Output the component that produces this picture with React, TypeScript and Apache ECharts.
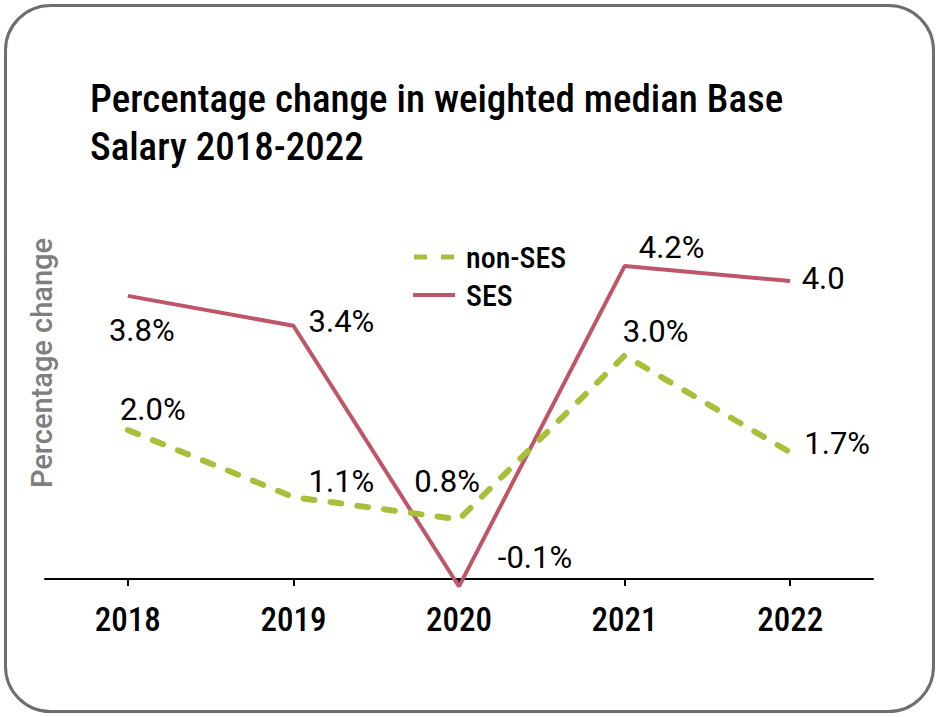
import React, { useEffect, useRef } from "react";
import * as echarts from "echarts";

const years = ["2018", "2019", "2020", "2021", "2022"];
const sesValues = [3.8, 3.4, -0.1, 4.2, 4.0];
const nonSesValues = [2.0, 1.1, 0.8, 3.0, 1.7];
const sesLabels = ["3.8%", "3.4%", "-0.1%", "4.2%", "4.0"];
const nonSesLabels = ["2.0%", "1.1%", "0.8%", "3.0%", "1.7%"];
const sesLabelOffsets = [[14, 35], [48, -4], [76, -29], [47, -19], [33, -3]];
const nonSesLabelOffsets = [[25, -21], [48, -16], [-12, -38], [31, -24], [47, -9]];

const COND = "'Roboto Condensed', 'Liberation Sans Narrow', 'DejaVu Sans Condensed', 'Arial Narrow', Roboto, sans-serif";

export default function App() {
  const ref = useRef<HTMLDivElement>(null);
  useEffect(() => {
    document.body.style.margin = "0";
    const chart = echarts.init(ref.current!, undefined, { renderer: "svg" });
    const labelStyle = { color: "#000", fontSize: 31, fontFamily: "Roboto, sans-serif" };
    chart.setOption({
      animation: false,
      backgroundColor: "#fff",
      title: {
        text: "Percentage change in weighted median Base\nSalary 2018-2022",
        left: 85,
        top: 70,
        textStyle: { fontFamily: COND, fontSize: 39, fontWeight: 500, color: "#000", lineHeight: 48 },
      },
      legend: {
        orient: "vertical",
        left: 408,
        top: 234,
        itemWidth: 42,
        itemHeight: 5,
        itemGap: 2,
        textStyle: { fontFamily: COND, fontSize: 30, fontWeight: 500, color: "#000", padding: [0, 0, 0, 6], lineHeight: 36 },
        data: [
          { name: "non-SES", icon: "path://M0,0h13v5H0z M27,0h13v5H27z" },
          { name: "SES", icon: "path://M0,0h40v4H0z" },
        ],
      },
      grid: { left: 45, top: 206.5, width: 828, height: 372.5 },
      xAxis: {
        type: "category",
        data: years,
        boundaryGap: true,
        axisLine: { show: true, lineStyle: { color: "#000", width: 2 } },
        axisTick: { show: true, alignWithLabel: true, inside: false, length: 7, lineStyle: { color: "#000", width: 2 } },
        axisLabel: { margin: 24, fontFamily: COND, fontSize: 33, fontWeight: 500, color: "#000" },
      },
      yAxis: {
        type: "value",
        min: 0,
        max: 5,
        axisLine: { show: false },
        axisTick: { show: false },
        axisLabel: { show: false },
        splitLine: { show: false },
      },
      graphic: [
        {
          type: "rect",
          shape: { x: 5.5, y: 5.5, width: 928, height: 706, r: 45 },
          style: { fill: "none", stroke: "#6e6e6e", lineWidth: 3 },
          z: 100,
        },
        {
          type: "text",
          x: 42,
          y: 363,
          rotation: Math.PI / 2,
          style: {
            text: "Percentage change",
            fontSize: 29,
            fontWeight: 500,
            fontFamily: "Roboto, sans-serif",
            fill: "#7f7f7f",
            align: "center",
            verticalAlign: "middle",
          },
        },
      ],
      series: [
        {
          name: "non-SES",
          type: "line",
          symbol: "circle",
          symbolSize: 0,
          clip: false,
          itemStyle: { color: "#a8bf3a" },
          lineStyle: { color: "#a8bf3a", width: 6, type: [11, 16], cap: "round" },
          data: nonSesValues.map((v, i) => ({
            value: v,
            label: {
              show: true,
              position: "inside",
              offset: nonSesLabelOffsets[i],
              formatter: nonSesLabels[i],
              ...labelStyle,
            },
          })),
          z: 3,
        },
        {
          name: "SES",
          type: "line",
          symbol: "circle",
          symbolSize: 0,
          clip: false,
          itemStyle: { color: "#bf5569" },
          lineStyle: { color: "#bf5569", width: 4 },
          data: sesValues.map((v, i) => ({
            value: v,
            label: {
              show: true,
              position: "inside",
              offset: sesLabelOffsets[i],
              formatter: sesLabels[i],
              ...labelStyle,
            },
          })),
          z: 2,
        },
      ],
    });
    return () => chart.dispose();
  }, []);
  return <div ref={ref} style={{ position: "fixed", left: 0, top: 0, width: 939, height: 717 }} />;
}
